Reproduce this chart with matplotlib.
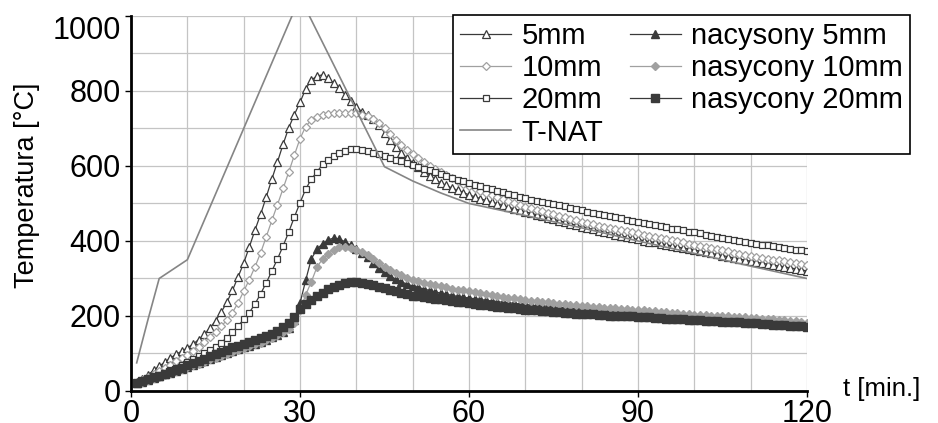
import numpy as np
import matplotlib.pyplot as plt

plt.rcParams['font.family'] = ['Liberation Sans', 'DejaVu Sans']

# time in minutes, one reading per minute
t = np.arange(1, 121)

# temperatures [°C] per series
temp_5mm = [
    24, 33, 43, 55, 66, 77, 88, 98, 106, 115,
    125, 137, 151, 168, 187, 210, 236, 268, 304, 341,
    384, 429, 471, 517, 565, 611, 658, 702, 737, 770,
    805, 829, 840, 843, 834, 821, 807, 790, 773, 757,
    745, 736, 726, 709, 689, 669, 651, 635, 621, 609,
    597, 585, 574, 564, 555, 548, 541, 535, 529, 523,
    518, 513, 508, 504, 499, 495, 490, 486, 482, 478,
    474, 470, 466, 462, 458, 454, 450, 446, 442, 438,
    434, 431, 427, 424, 420, 417, 414, 410, 407, 404,
    401, 398, 396, 393, 390, 387, 384, 381, 379, 376,
    373, 370, 367, 364, 361, 358, 355, 352, 349, 346,
    343, 341, 338, 336, 333, 331, 328, 326, 323, 320,
]
temp_10mm = [
    22, 29, 37, 45, 53, 62, 70, 79, 88, 97,
    107, 118, 130, 143, 157, 172, 189, 209, 235, 266,
    297, 331, 368, 411, 455, 497, 540, 584, 629, 673,
    705, 723, 731, 736, 739, 741, 742, 742, 741, 740,
    737, 732, 725, 715, 702, 686, 670, 656, 643, 632,
    621, 610, 600, 591, 583, 575, 567, 560, 553, 546,
    540, 534, 528, 522, 516, 511, 506, 501, 496, 491,
    487, 483, 479, 475, 471, 467, 463, 459, 455, 451,
    448, 445, 441, 438, 435, 432, 429, 426, 423, 420,
    417, 414, 411, 408, 405, 402, 399, 396, 393, 390,
    387, 384, 381, 378, 375, 372, 369, 366, 363, 360,
    358, 355, 353, 350, 348, 346, 343, 341, 339, 337,
]
temp_20mm = [
    21, 26, 31, 37, 43, 49, 55, 62, 69, 76,
    84, 92, 100, 108, 118, 129, 142, 157, 173, 191,
    209, 232, 259, 288, 320, 352, 387, 424, 464, 502,
    538, 565, 584, 604, 616, 627, 635, 640, 644, 645,
    643, 639, 635, 631, 626, 621, 616, 612, 608, 603,
    598, 593, 588, 583, 578, 573, 568, 563, 559, 554,
    550, 546, 542, 538, 534, 530, 526, 522, 518, 514,
    510, 507, 504, 501, 498, 495, 492, 489, 486, 482,
    478, 475, 472, 469, 466, 463, 460, 457, 454, 451,
    448, 445, 442, 439, 436, 433, 431, 428, 425, 423,
    420, 417, 414, 411, 409, 406, 403, 400, 398, 395,
    393, 390, 388, 386, 384, 381, 379, 377, 375, 372,
]
temp_nac_5mm = [
    21, 25, 29, 34, 39, 44, 49, 54, 59, 64,
    69, 74, 80, 85, 90, 96, 101, 106, 111, 116,
    121, 126, 131, 137, 143, 150, 158, 168, 190, 234,
    295, 352, 378, 393, 403, 408, 405, 398, 389, 379,
    368, 356, 342, 328, 316, 306, 298, 291, 285, 280,
    276, 272, 268, 264, 261, 258, 255, 252, 250, 248,
    246, 244, 242, 240, 238, 237, 235, 234, 232, 231,
    229, 228, 227, 226, 224, 223, 222, 221, 220, 219,
    218, 217, 216, 215, 214, 213, 212, 211, 210, 209,
    208, 207, 206, 205, 204, 203, 202, 201, 200, 199,
    198, 197, 196, 195, 194, 193, 192, 191, 190, 189,
    188, 187, 186, 185, 184, 183, 182, 181, 180, 179,
]
temp_nas_10mm = [
    21, 25, 29, 34, 38, 43, 48, 53, 58, 63,
    68, 73, 78, 84, 89, 94, 99, 104, 109, 114,
    119, 124, 129, 135, 141, 148, 156, 166, 182, 215,
    256, 291, 330, 352, 366, 377, 383, 383, 380, 376,
    371, 362, 351, 341, 331, 323, 315, 308, 302, 297,
    293, 289, 285, 282, 279, 276, 273, 270, 268, 266,
    263, 260, 258, 256, 253, 251, 249, 247, 245, 243,
    241, 239, 238, 236, 234, 233, 231, 230, 228, 227,
    226, 225, 224, 222, 221, 220, 219, 218, 217, 216,
    215, 213, 212, 211, 210, 208, 207, 206, 205, 203,
    202, 202, 201, 200, 199, 199, 198, 197, 196, 195,
    194, 193, 192, 191, 190, 188, 187, 186, 184, 182,
]
temp_nas_20mm = [
    21, 26, 31, 36, 41, 46, 51, 56, 62, 68,
    74, 80, 86, 93, 99, 105, 110, 116, 121, 126,
    131, 136, 141, 146, 152, 160, 170, 182, 197, 218,
    232, 243, 253, 262, 271, 277, 283, 288, 291, 291,
    289, 286, 282, 278, 274, 270, 266, 262, 258, 254,
    252, 250, 248, 246, 244, 242, 240, 238, 236, 234,
    232, 230, 229, 227, 225, 223, 222, 220, 218, 217,
    216, 215, 214, 212, 211, 210, 209, 208, 206, 205,
    204, 204, 203, 202, 201, 201, 200, 199, 199, 198,
    197, 196, 195, 194, 193, 193, 192, 191, 190, 189,
    188, 187, 187, 186, 185, 184, 184, 183, 182, 181,
    180, 179, 178, 177, 176, 175, 174, 173, 172, 171,
]

# natural fire curve (gas temperature)
tnat_t = [1, 3, 5, 10, 30, 45, 50, 55, 60, 70, 80, 90, 100, 110, 120]
tnat = [75, 190, 300, 350, 1050, 598, 560, 528, 500, 468, 435, 400, 367, 333, 300]

dark = '#3a3a3a'
light = '#a0a0a0'

fig = plt.figure(figsize=(9.38, 4.23), dpi=100)
ax = fig.add_axes([0.1397, 0.0757, 0.7206, 0.8865])

ax.plot(t, temp_5mm, '-^', color=dark, lw=0.9, ms=6, mfc='white', mec=dark, mew=0.9, label='5mm')
ax.plot(t, temp_10mm, '-D', color=light, lw=0.9, ms=4, mfc='white', mec=light, mew=0.9, label='10mm')
ax.plot(t, temp_20mm, '-s', color=dark, lw=0.9, ms=4.4, mfc='white', mec=dark, mew=0.9, label='20mm')
ax.plot(tnat_t, tnat, '-', color='#858585', lw=1.2, label='T-NAT')
ax.plot(t, temp_nac_5mm, '-^', color=dark, lw=0.9, ms=6, mfc=dark, mec=dark, label='nacysony 5mm')
ax.plot(t, temp_nas_10mm, '-D', color=light, lw=0.9, ms=4.4, mfc=light, mec=light, label='nasycony 10mm')
ax.plot(t, temp_nas_20mm, '-s', color=dark, lw=0.9, ms=5.2, mfc=dark, mec=dark, label='nasycony 20mm')

ax.set_xlim(0, 120)
ax.set_ylim(0, 1000)
ax.set_xticks([0, 30, 60, 90, 120])
ax.set_xticks(np.arange(0, 121, 10), minor=True)
ax.set_yticks(np.arange(0, 1001, 200))
ax.set_yticks(np.arange(0, 1001, 100), minor=True)
ax.grid(which='both', color='#c4c4c4', lw=0.9)
ax.set_axisbelow(True)
ax.tick_params(which='major', direction='out', length=4.5, width=1, labelsize=22)
ax.tick_params(axis='y', pad=3)
ax.tick_params(axis='x', pad=1)
ax.tick_params(which='minor', length=0)
# top label sits below its tick so it stays inside the figure
ax.get_yticklabels()[-1].set_verticalalignment('top')

for side in ['top', 'right']:
    ax.spines[side].set_visible(False)
for side in ['left', 'bottom']:
    ax.spines[side].set_linewidth(2)
    ax.spines[side].set_color('black')

fig.text(27 / 938, 1 - 185 / 423, 'Temperatura [°C]', rotation=90,
         ha='center', va='center', fontsize=19.5)
fig.text(843 / 938, 1 - 389 / 423, 't [min.]', ha='left', va='center', fontsize=18.5)

leg = ax.legend(ncol=2, loc='upper left', bbox_to_anchor=(453 / 938, 1 - 15 / 423),
                bbox_transform=fig.transFigure, borderaxespad=0, fontsize=21,
                frameon=True, fancybox=False, edgecolor='black', framealpha=1,
                handlelength=1.75, handletextpad=0.35, labelspacing=0.14,
                columnspacing=0.9, borderpad=0.25)
leg.get_frame().set_linewidth(1.2)

fig.savefig('out.png', dpi=100)
